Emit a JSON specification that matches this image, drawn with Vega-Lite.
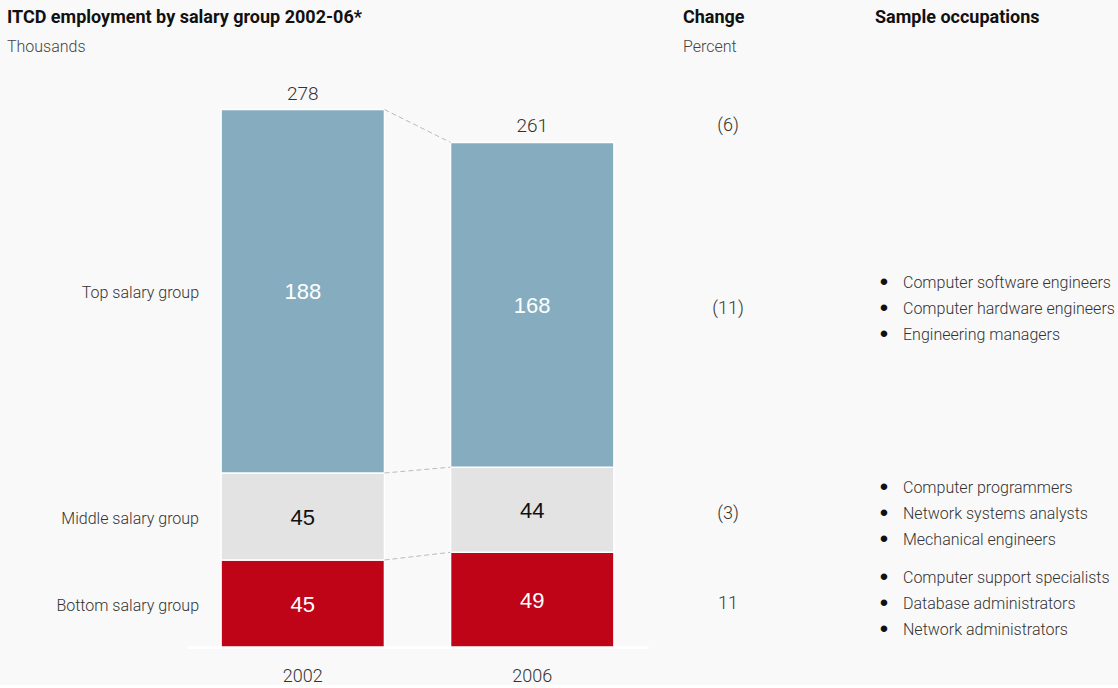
{
  "$schema": "https://vega.github.io/schema/vega-lite/v6.json",
  "background": "#f9f9f9",
  "padding": {"left": 7, "top": 9, "right": 0, "bottom": 0},
  "config": {
    "view": {"stroke": null},
    "font": "Roboto",
    "text": {"font": "Roboto", "fontWeight": 300},
    "title": {
      "anchor": "start",
      "frame": "group",
      "font": "Roboto",
      "fontSize": 18,
      "fontWeight": "bold",
      "color": "#111111",
      "subtitleFont": "Roboto",
      "subtitleFontWeight": 300,
      "subtitleFontSize": 16,
      "subtitleColor": "#444444",
      "subtitlePadding": 12,
      "offset": 12
    }
  },
  "datasets": {
    "segments": [
      {"year": "2002", "group": "Bottom salary group", "rank": 1, "value": 45},
      {"year": "2002", "group": "Middle salary group", "rank": 2, "value": 45},
      {"year": "2002", "group": "Top salary group", "rank": 3, "value": 188},
      {"year": "2006", "group": "Bottom salary group", "rank": 1, "value": 49},
      {"year": "2006", "group": "Middle salary group", "rank": 2, "value": 44},
      {"year": "2006", "group": "Top salary group", "rank": 3, "value": 168}
    ],
    "groups": [
      {"group": "Bottom salary group", "change": "11", "occupations": "Computer support specialists\nDatabase administrators\nNetwork administrators"},
      {"group": "Middle salary group", "change": "(3)", "occupations": "Computer programmers\nNetwork systems analysts\nMechanical engineers"},
      {"group": "Top salary group", "change": "(11)", "occupations": "Computer software engineers\nComputer hardware engineers\nEngineering managers"}
    ],
    "totals": [
      {"year": "2002", "total": 278, "change": ""},
      {"year": "2006", "total": 261, "change": "(6)"}
    ],
    "connectors": [
      {"from": "2002", "to": "2006", "start": 278, "end": 261},
      {"from": "2002", "to": "2006", "start": 90, "end": 93},
      {"from": "2002", "to": "2006", "start": 45, "end": 49}
    ]
  },
  "hconcat": [
    {
      "width": 180,
      "height": 580,
      "title": {"text": "ITCD employment by salary group 2002-06*", "subtitle": "Thousands"},
      "data": {"name": "segments"},
      "transform": [{"filter": "datum.year === '2002'"}],
      "mark": {"type": "text", "align": "right", "baseline": "middle", "dx": 12, "dy": 2, "fontSize": 16, "color": "#333333"},
      "encoding": {
        "x": {"value": "width"},
        "y": {"field": "value", "type": "quantitative", "stack": "zero", "bandPosition": 0.5, "scale": {"domain": [0, 300], "nice": false}, "axis": null},
        "detail": {"field": "group", "type": "nominal"},
        "order": {"field": "rank", "type": "quantitative"},
        "text": {"field": "group", "type": "nominal"}
      }
    },
    {
      "width": 461,
      "height": 580,
      "layer": [
        {
          "data": {"name": "segments"},
          "mark": {"type": "bar", "stroke": "white", "strokeWidth": 1.5},
          "encoding": {
            "x": {
              "field": "year", "type": "ordinal",
              "scale": {"paddingInner": 0.288, "paddingOuter": 0.1485},
              "axis": {"title": null, "labelAngle": 0, "ticks": false, "domainColor": "white", "domainWidth": 3, "labelFontSize": 18, "labelColor": "#333333", "labelPadding": 20, "labelFont": "Roboto", "labelFontWeight": 300}
            },
            "y": {"field": "value", "type": "quantitative", "stack": "zero", "scale": {"domain": [0, 300], "nice": false}, "axis": null},
            "color": {
              "field": "group", "type": "nominal",
              "scale": {"domain": ["Bottom salary group", "Middle salary group", "Top salary group"], "range": ["#c00418", "#e3e3e3", "#86adbf"]},
              "legend": null
            },
            "order": {"field": "rank", "type": "quantitative"}
          }
        },
        {
          "data": {"name": "segments"},
          "mark": {"type": "text", "baseline": "middle", "font": "Liberation Sans", "fontWeight": "normal", "fontSize": 22, "dy": 1},
          "encoding": {
            "x": {"field": "year", "type": "ordinal"},
            "y": {"field": "value", "type": "quantitative", "stack": "zero", "bandPosition": 0.5},
            "detail": {"field": "group", "type": "nominal"},
            "order": {"field": "rank", "type": "quantitative"},
            "text": {"field": "value", "type": "quantitative"},
            "color": {"condition": {"test": "datum.group === 'Middle salary group'", "value": "#111111"}, "value": "white"}
          }
        },
        {
          "data": {"name": "totals"},
          "mark": {"type": "text", "baseline": "middle", "dy": -16, "fontSize": 19, "color": "#333333"},
          "encoding": {
            "x": {"field": "year", "type": "ordinal"},
            "y": {"field": "total", "type": "quantitative"},
            "text": {"field": "total", "type": "quantitative"}
          }
        },
        {
          "data": {"name": "connectors"},
          "mark": {"type": "rule", "color": "#bbbbbb", "strokeWidth": 1, "strokeDash": [5, 3]},
          "encoding": {
            "x": {"field": "from", "type": "ordinal", "bandPosition": 1},
            "x2": {"field": "to", "bandPosition": 0},
            "y": {"field": "start", "type": "quantitative"},
            "y2": {"field": "end"}
          }
        }
      ]
    },
    {
      "width": 160,
      "height": 580,
      "title": {"text": "Change", "subtitle": "Percent", "dx": 35},
      "layer": [
        {
          "data": {"name": "totals"},
          "transform": [{"filter": "datum.year === '2006'"}],
          "mark": {"type": "text", "baseline": "middle", "dy": -16, "fontSize": 18, "color": "#333333"},
          "encoding": {
            "y": {"field": "total", "type": "quantitative", "scale": {"domain": [0, 300], "nice": false}, "axis": null},
            "text": {"field": "change", "type": "nominal"}
          }
        },
        {
          "data": {"name": "segments"},
          "transform": [
            {"filter": "datum.year === '2006'"},
            {"lookup": "group", "from": {"data": {"name": "groups"}, "key": "group", "fields": ["change"]}}
          ],
          "mark": {"type": "text", "baseline": "middle", "dy": 4, "fontSize": 18, "color": "#333333"},
          "encoding": {
            "y": {"field": "value", "type": "quantitative", "stack": "zero", "bandPosition": 0.5},
            "detail": {"field": "group", "type": "nominal"},
            "order": {"field": "rank", "type": "quantitative"},
            "text": {"field": "change", "type": "nominal"}
          }
        }
      ]
    },
    {
      "width": 310,
      "height": 580,
      "title": {"text": "Sample occupations", "subtitle": " ", "dx": 67},
      "data": {"name": "segments"},
      "transform": [
        {"filter": "datum.year === '2006'"},
        {"lookup": "group", "from": {"data": {"name": "groups"}, "key": "group", "fields": ["occupations"]}}
      ],
      "encoding": {
        "y": {"field": "value", "type": "quantitative", "stack": "zero", "bandPosition": 0.5, "scale": {"domain": [0, 300], "nice": false}, "axis": null},
        "detail": {"field": "group", "type": "nominal"},
        "order": {"field": "rank", "type": "quantitative"}
      },
      "layer": [
        {
          "mark": {"type": "text", "align": "center", "baseline": "middle", "dy": -22, "font": "Liberation Sans", "fontWeight": "normal", "fontSize": 24, "lineBreak": "\n", "lineHeight": 26, "color": "#111111", "text": "•\n•\n•"},
          "encoding": {"x": {"value": 76}}
        },
        {
          "mark": {"type": "text", "align": "left", "baseline": "middle", "dy": -22, "fontSize": 16, "lineBreak": "\n", "lineHeight": 26, "color": "#333333"},
          "encoding": {
            "x": {"value": 95},
            "text": {"field": "occupations", "type": "nominal"}
          }
        }
      ]
    }
  ],
  "spacing": 0,
  "bounds": "flush"
}
